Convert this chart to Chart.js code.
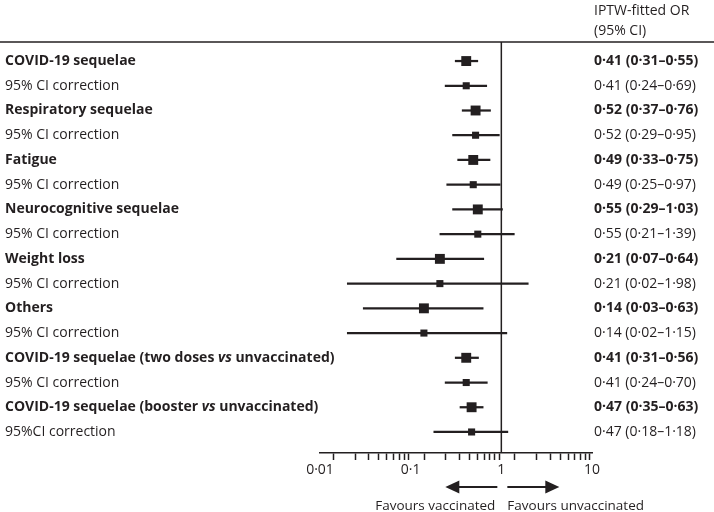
<!DOCTYPE html>
<html>
<head>
<meta charset="UTF-8">
<title>IPTW-fitted OR forest plot</title>
<script src="https://cdn.jsdelivr.net/npm/chart.js"></script>
<style>
  html, body { margin: 0; padding: 0; background: #fff; }
</style>
</head>
<body>
<canvas id="forest" width="714" height="512"></canvas>
<script>
// rows, top to bottom
const rowLabels = [
  'COVID-19 sequelae', '95% CI correction',
  'Respiratory sequelae', '95% CI correction',
  'Fatigue', '95% CI correction',
  'Neurocognitive sequelae', '95% CI correction',
  'Weight loss', '95% CI correction',
  'Others', '95% CI correction',
  'COVID-19 sequelae (two doses vs unvaccinated)', '95% CI correction',
  'COVID-19 sequelae (booster vs unvaccinated)', '95%CI correction'
];
const isMain = [true, false, true, false, true, false, true, false,
                true, false, true, false, true, false, true, false];
const orVals = [0.41, 0.41, 0.52, 0.52, 0.49, 0.49, 0.55, 0.55,
                0.21, 0.21, 0.14, 0.14, 0.41, 0.41, 0.47, 0.47];
const ciLow  = [0.31, 0.24, 0.37, 0.29, 0.33, 0.25, 0.29, 0.21,
                0.07, 0.02, 0.03, 0.02, 0.31, 0.24, 0.35, 0.18];
const ciHigh = [0.55, 0.69, 0.76, 0.95, 0.75, 0.97, 1.03, 1.39,
                0.64, 1.98, 0.63, 1.15, 0.56, 0.70, 0.63, 1.18];

// x axis: labelled decades plus unlabelled minor ticks 2..9
const majorTicks = [0.01, 0.1, 1, 10];
const majorLabels = ['0·01', '0·1', '1', '10'];
const minorSteps = [2, 3, 4, 5, 6, 7, 8, 9];

const ink = '#231f20';
const font = '"Open Sans", "DejaVu Sans", sans-serif';
Chart.defaults.font.family = font;

const tickValues = [];
majorTicks.forEach((m, i) => {
  tickValues.push(m);
  if (i < majorTicks.length - 1) minorSteps.forEach(s => tickValues.push(+(m * s).toPrecision(3)));
});

const fmt = v => v.toFixed(2).replace('.', '·');

const rows = rowLabels.map((_, i) => i);
const mainRows = rows.filter(i => isMain[i]);
const corrRows = rows.filter(i => !isMain[i]);

// draws the row labels, OR column, header and the favours arrows
const forestText = {
  id: 'forestText',
  afterDraw(chart) {
    const { ctx, chartArea, scales: { x, y } } = chart;
    const size = '14px ';
    const colSize = '14px ';
    ctx.save();
    ctx.strokeStyle = ink;
    ctx.fillStyle = ink;
    ctx.lineWidth = 1.5;

    // rule across the top
    ctx.beginPath();
    ctx.moveTo(0, chartArea.top);
    ctx.lineTo(chart.width, chartArea.top);
    ctx.stroke();

    // header
    ctx.textBaseline = 'middle';
    ctx.textAlign = 'left';
    ctx.font = colSize + font;
    ctx.fillText('IPTW-fitted OR', 594, 11);
    ctx.fillText('(95% CI)', 594, 31);

    rows.forEach(i => {
      const yp = y.getPixelForValue(i);
      const weight = isMain[i] ? 'bold ' : '';
      // left label, "vs" in italics
      let xp = 5;
      rowLabels[i].split(/( vs )/).forEach(part => {
        if (part === ' vs ') {
          ctx.font = weight + size + font;
          ctx.fillText(' ', xp, yp); xp += ctx.measureText(' ').width;
          ctx.font = 'italic ' + weight + size + font;
          ctx.fillText('vs', xp, yp); xp += ctx.measureText('vs').width;
          ctx.font = weight + size + font;
          ctx.fillText(' ', xp, yp); xp += ctx.measureText(' ').width;
        } else {
          ctx.font = weight + size + font;
          ctx.fillText(part, xp, yp);
          xp += ctx.measureText(part).width;
        }
      });
      // OR (95% CI)
      ctx.font = weight + colSize + font;
      ctx.fillText(fmt(orVals[i]) + ' (' + fmt(ciLow[i]) + '–' + fmt(ciHigh[i]) + ')', 594, yp);
    });

    // favours arrows
    const p1 = x.getPixelForValue(1);
    const ay = 487;
    ctx.lineWidth = 2;
    const arrow = (from, to) => {
      const dir = Math.sign(to - from);
      ctx.beginPath();
      ctx.moveTo(from, ay);
      ctx.lineTo(to - dir * 12, ay);
      ctx.stroke();
      ctx.beginPath();
      ctx.moveTo(to, ay);
      ctx.lineTo(to - dir * 14, ay - 6.5);
      ctx.lineTo(to - dir * 14, ay + 6.5);
      ctx.closePath();
      ctx.fill();
    };
    arrow(p1 - 4, p1 - 56);
    arrow(p1 + 6, p1 + 58);

    ctx.font = '13.5px ' + font;
    ctx.textAlign = 'right';
    ctx.fillText('Favours vaccinated', p1 - 6, 506);
    ctx.textAlign = 'left';
    ctx.fillText('Favours unvaccinated', p1 + 6, 506);
    ctx.restore();
  }
};

new Chart(document.getElementById('forest'), {
  type: 'bar',
  data: {
    datasets: [
      {
        type: 'scatter',
        data: mainRows.map(i => ({ x: orVals[i], y: i })),
        pointStyle: 'rect',
        pointRadius: 7,
        backgroundColor: ink,
        borderWidth: 0,
        order: 1
      },
      {
        type: 'scatter',
        data: corrRows.map(i => ({ x: orVals[i], y: i })),
        pointStyle: 'rect',
        pointRadius: 5,
        backgroundColor: ink,
        borderWidth: 0,
        order: 1
      },
      {
        type: 'bar',
        indexAxis: 'y',
        data: rows.map(i => ({ x: [ciLow[i], ciHigh[i]], y: i })),
        backgroundColor: ink,
        borderWidth: 0,
        barThickness: 1.6,
        order: 2
      },
      {
        type: 'line',
        data: [{ x: 1, y: -0.77 }, { x: 1, y: 15.85 }],
        borderColor: ink,
        borderWidth: 1.5,
        pointRadius: 0,
        clip: false,
        order: 3
      }
    ]
  },
  options: {
    responsive: false,
    animation: false,
    events: [],
    layout: { padding: { left: 320, right: 122, top: 42, bottom: 0 } },
    plugins: { legend: { display: false }, tooltip: { enabled: false } },
    scales: {
      x: {
        type: 'logarithmic',
        position: 'bottom',
        min: 0.01,
        max: 10,
        afterBuildTicks: s => { s.ticks = tickValues.map(v => ({ value: v })); },
        afterFit: s => { s.height = 59; },
        border: { display: true, color: ink, width: 1.5 },
        grid: { drawOnChartArea: false, drawTicks: true, tickLength: 7, tickColor: ink, tickWidth: 1.5 },
        ticks: {
          autoSkip: false,
          maxRotation: 0,
          padding: 2,
          color: ink,
          font: { size: 14 },
          callback: v => {
            const k = majorTicks.findIndex(m => Math.abs(m - v) < 1e-9);
            return k >= 0 ? majorLabels[k] : '';
          }
        }
      },
      y: {
        type: 'linear',
        min: -0.77,
        max: 15.85,
        reverse: true,
        offset: false,
        display: false
      }
    }
  },
  plugins: [forestText]
});
</script>
</body>
</html>
